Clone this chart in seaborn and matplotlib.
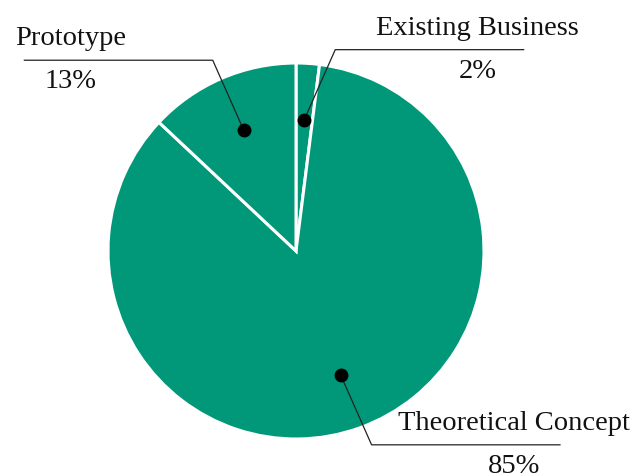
import numpy as np
import matplotlib
matplotlib.use("Agg")
import matplotlib.pyplot as plt
import seaborn as sns

labels = ["Existing Business", "Theoretical Concept", "Prototype"]
values = [2, 85, 13]
pct_labels = ["2%", "85%", "13%"]

sns.set_theme(style="white")
plt.rcParams['font.family'] = ['Liberation Serif', 'DejaVu Serif']

W, H = 635, 477
R = 188.0          # pie radius in px
cx, cy = 296, 252  # pie centre in px

fig = plt.figure(figsize=(W / 100, H / 100), dpi=100)
ax = fig.add_axes([0, 0, 1, 1])

teal = "#009878"
wedges, _ = ax.pie(values, startangle=90, counterclock=False, radius=1.0,
                   colors=[teal] * len(values),
                   wedgeprops=dict(edgecolor='white', linewidth=2.2))

# pie() resets the limits, so set them afterwards
ax.set_xlim(-cx / R, (W - cx) / R)
ax.set_ylim(-(H - cy) / R, cy / R)
ax.set_aspect('equal')
ax.axis('off')

px = 1 / R
for w, lab, pct in zip(wedges, labels, pct_labels):
    ang = np.deg2rad((w.theta1 + w.theta2) / 2)
    x0, y0 = 0.70 * np.cos(ang), 0.70 * np.sin(ang)
    side = 1 if np.cos(ang) >= 0 else -1
    vside = 1 if np.sin(ang) >= 0 else -1
    # leader: short diagonal from the dot, then a horizontal run
    x1 = x0 + side * 31 * px
    y1 = y0 + vside * 70 * px
    x2 = x1 + side * 189 * px
    ax.plot([x0, x1, x2], [y0, y1, y1], color='#222222', lw=0.9,
            solid_capstyle='butt', zorder=3)
    ax.plot([x0], [y0], 'o', color='black', ms=9, zorder=4)
    tx = x1 + side * 142 * px
    ax.text(tx, y1 + 16 * px, lab, ha='center', va='baseline',
            fontsize=20.5, color='#111111')
    ax.text(tx, y1 - 27 * px, pct, ha='center', va='baseline',
            fontsize=20.5, color='#111111')

fig.savefig("out.png", dpi=100)
